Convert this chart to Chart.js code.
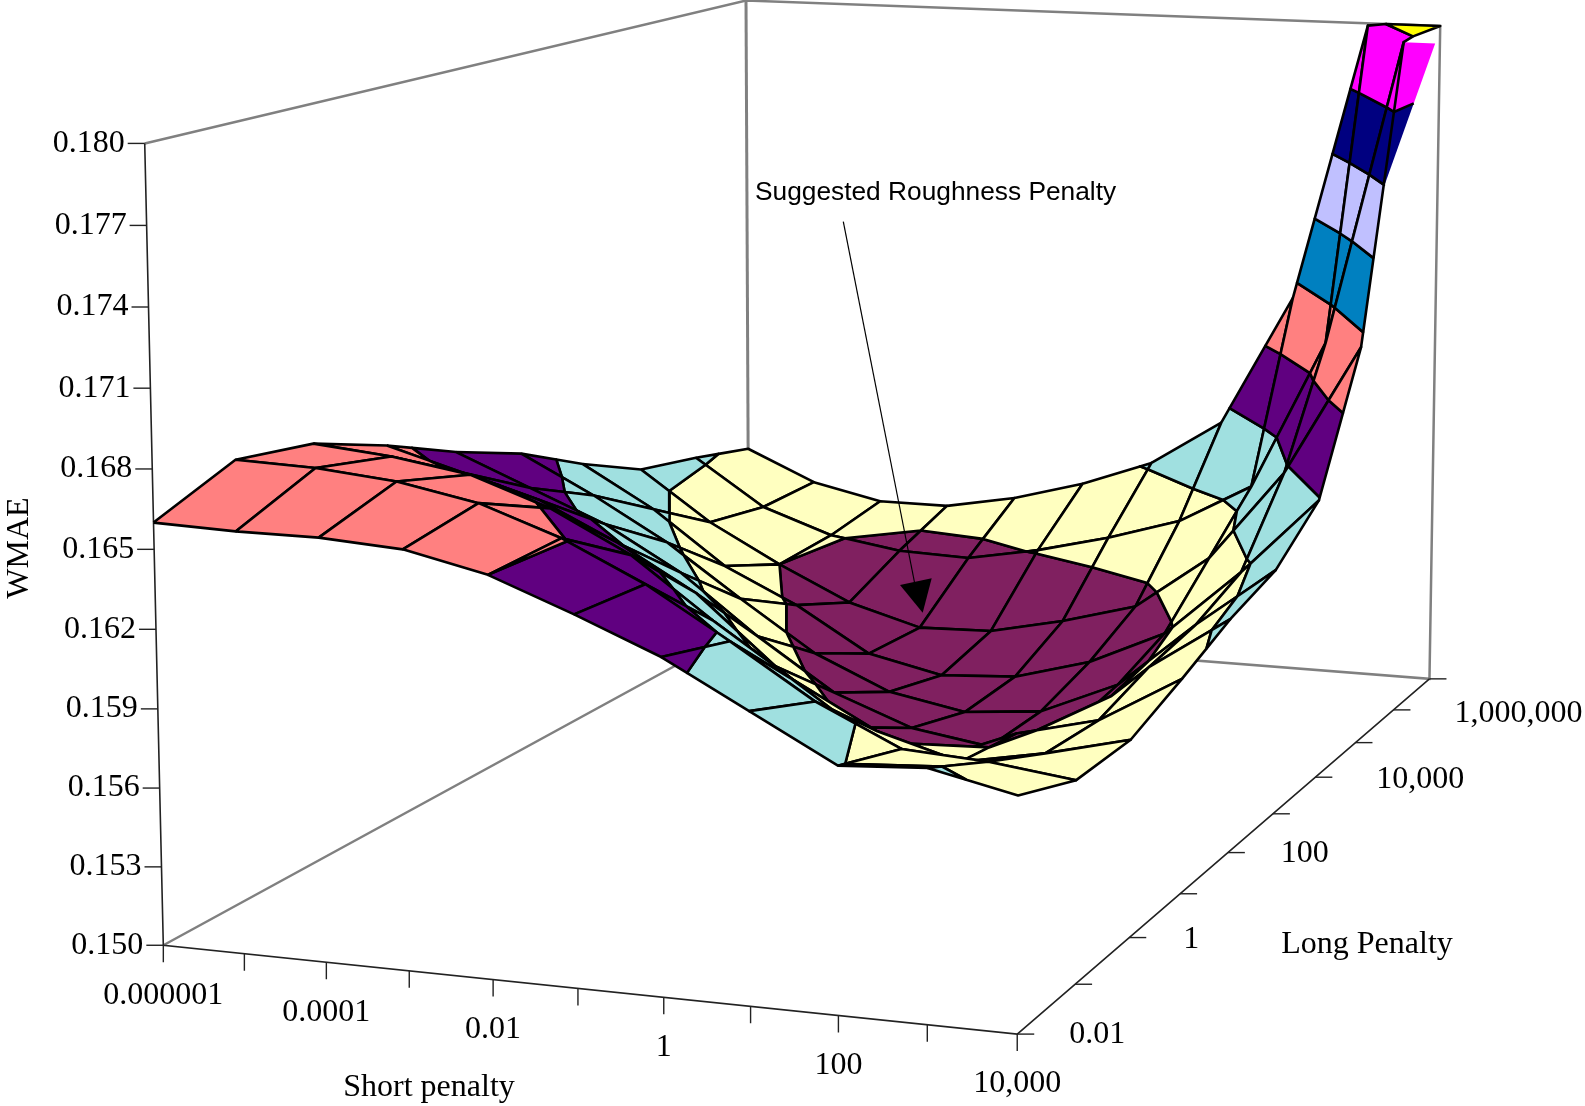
<!DOCTYPE html>
<html><head><meta charset="utf-8"><style>html,body{margin:0;padding:0;background:#fff}canvas{display:block}</style></head>
<body><canvas id="c" width="1585" height="1106"></canvas>
<script src="https://cdn.jsdelivr.net/npm/chart.js@4"></script>
<script>
// ---------- data ----------
const shortPenalty=['0.000001','0.00001','0.0001','0.001','0.01','0.1','1','10','100','1,000','10,000'];
const longPenalty=['0.01','0.1','1','10','100','1,000','10,000','100,000','1,000,000','10,000,000'];
const wmaeTicks=['0.150','0.153','0.156','0.159','0.162','0.165','0.168','0.171','0.174','0.177','0.180'];
const shortTickLabels=['0.000001','','0.0001','','0.01','','1','','100','','10,000'];
const longTickLabels=['0.01','','1','','100','','10,000','','1,000,000',''];
// WMAE for each short penalty, one value per long penalty
const wmaeS0=[.1660,.1672,.1667,.1655,.1641,.1629,.1613,.1599,.1593,.1586];
const wmaeS1=[.1659,.1671,.1664,.1646,.1628,.1613,.1595,.1577,.1572,.1572];
const wmaeS2=[.1659,.1668,.1659,.1637,.1615,.1595,.1572,.1560,.1561,.1565];
const wmaeS3=[.1657,.1662,.1648,.1622,.1597,.1573,.1557,.1545,.1556,.1565];
const wmaeS4=[.1650,.1651,.1632,.1604,.1573,.1552,.1538,.1536,.1555,.1571];
const wmaeS5=[.1638,.1636,.1609,.1577,.1552,.1538,.1531,.1537,.1561,.1580];
const wmaeS6=[.1625,.1617,.1588,.1555,.1540,.1532,.1533,.1544,.1569,.1592];
const wmaeS7=[.1608,.1597,.1571,.1545,.1535,.1535,.1542,.1553,.1579,.1613];
const wmaeS8=[.1591,.1582,.1562,.1558,.1545,.1549,.1557,.1577,.1597,.1673];
const wmaeS9=[.1593,.1580,.1568,.1566,.1573,.1577,.1586,.1617,.1664,.1799];
const wmaeS10=[.1586,.1576,.1576,.1585,.1595,.1602,.1619,.1674,.1799,.1803];
// sliver of the rising sheet that shows past the last grid line (long position 0-1, WMAE)
const sliverLong=[.889,.985,.834];
const sliverWmae=[.1799,.1793,.1738];
const bandLimits=[.150,.156,.159,.162,.165,.168,.171,.174,.177,.180,.200];
const bandColors=['#802060','#FFFFC0','#A0E0E0','#600080','#FF8080','#0080C0','#C0C0FF','#000080','#FF00FF','#FFFF00'];
// ---------- projection of the 3D box ----------
const wmaeGrid=[wmaeS0,wmaeS1,wmaeS2,wmaeS3,wmaeS4,wmaeS5,wmaeS6,wmaeS7,wmaeS8,wmaeS9,wmaeS10];
const boxCorners=[[0,0,0,164.8,951],[1,0,0,1015.9,1030],[1,1,0,1430.3,683],[0,1,0,748,620],[0,0,1,144.5,141.5],[0,1,1,746,3],[1,1,1,1440.4,25]];
function fit(pts){const A=[],B=[];for(const [u,v,w,X,Y] of pts){A.push([u,v,w,1,0,0,0,0,-X*u,-X*v,-X*w]);B.push(X);A.push([0,0,0,0,u,v,w,1,-Y*u,-Y*v,-Y*w]);B.push(Y);}
 const n=11,M=[];for(let r=0;r<n;r++){M.push([]);for(let c=0;c<n;c++){let s=0;for(let k=0;k<A.length;k++)s+=A[k][r]*A[k][c];M[r].push(s);}let s=0;for(let k=0;k<A.length;k++)s+=A[k][r]*B[k];M[r].push(s);}
 for(let c=0;c<n;c++){let p=c;for(let r=c+1;r<n;r++)if(Math.abs(M[r][c])>Math.abs(M[p][c]))p=r;[M[c],M[p]]=[M[p],M[c]];for(let r=0;r<n;r++)if(r!=c){const f=M[r][c]/M[c][c];for(let k=c;k<=n;k++)M[r][k]-=f*M[c][k];}}
 return M.map((r,i)=>r[n]/r[i]);}
const P=fit(boxCorners);
function proj(u,v,z){const w=(Math.min(z,.18)-.15)/.03;const d=P[8]*u+P[9]*v+P[10]*w+1;return {x:(P[0]*u+P[1]*v+P[2]*w+P[3])/d,y:(P[4]*u+P[5]*v+P[6]*w+P[7])/d};}
function clip(poly,lim,keepAbove){const out=[];for(let k=0;k<poly.length;k++){const a=poly[k],b=poly[(k+1)%poly.length];const ia=keepAbove?a.z>=lim:a.z<=lim,ib=keepAbove?b.z>=lim:b.z<=lim;if(ia)out.push(a);if(ia!==ib){const t=(lim-a.z)/(b.z-a.z);out.push({u:a.u+t*(b.u-a.u),v:a.v+t*(b.v-a.v),z:lim});}}return out;}
const grey='#808080',thin='#222222';
const ds=[];
const seg=(pts,color,width)=>ds.push({data:pts,borderColor:color,borderWidth:width,pointRadius:0,fill:false,tension:0,borderCapStyle:'butt'});
// walls
const C=(u,v,z)=>proj(u,v,z);
seg([C(0,0,.18),C(0,1,.18),C(1,1,.18),C(1,1,.15),C(0,1,.15),C(0,0,.15)],grey,2.5);
seg([C(0,1,.18),C(0,1,.15)],grey,3);
// axes
seg([C(0,0,.18),C(0,0,.15),C(1,0,.15),C(1,1,.15)],thin,1.6);
wmaeTicks.forEach((t,k)=>{const p=C(0,0,+t);seg([p,{x:p.x-17,y:p.y}],thin,1.4);});
shortPenalty.forEach((t,i)=>{const p=C(i/10,0,.15);seg([p,{x:p.x,y:p.y+17}],thin,1.4);});
longPenalty.forEach((t,j)=>{const p=C(1,j/9,.15);seg([p,{x:p.x+17,y:p.y}],thin,1.4);});
// sliver: filled bands with only their contour lines
const sliver=sliverLong.map((v,k)=>({u:1,v:v,z:sliverWmae[k]}));
bandColors.forEach((col,b)=>{
 let poly=clip(sliver,bandLimits[b],true);
 if(poly.length)poly=clip(poly,bandLimits[b+1],false);
 if(poly.length<3)return;
 const pts=poly.map(p=>proj(p.u,p.v,p.z));pts.push(pts[0]);
 ds.push({data:pts,borderWidth:0,borderColor:col,backgroundColor:col,fill:'shape',pointRadius:0,tension:0});
 const low=poly.filter(p=>Math.abs(p.z-bandLimits[b])<1e-9);
 if(low.length===2)seg(low.map(p=>proj(p.u,p.v,p.z)),'#000',2.6);
});
// surface, far cells first
for(let i=0;i<10;i++)for(let j=8;j>=0;j--){
 const q=[[i,j],[i+1,j],[i+1,j+1],[i,j+1]].map(([a,b])=>({u:a/10,v:b/9,z:wmaeGrid[a][b]}));
 bandColors.forEach((col,b)=>{
  let poly=clip(q,bandLimits[b],true);
  if(poly.length)poly=clip(poly,bandLimits[b+1],false);
  if(poly.length<3)return;
  const pts=poly.map(p=>proj(p.u,p.v,p.z));pts.push(pts[0]);
  ds.push({data:pts,borderColor:'#000',borderWidth:2.6,backgroundColor:col,fill:'shape',pointRadius:0,tension:0,borderJoinStyle:'round'});
 });
}
// annotation pointer
seg([{x:843.3,y:221.7},{x:918,y:600}],'#000',1.2);
ds.push({data:[{x:900,y:585},{x:931.7,y:578.3},{x:922.7,y:612.7},{x:900,y:585}],borderColor:'#000',borderWidth:0,backgroundColor:'#000',fill:'shape',pointRadius:0,tension:0});
const n=ds.length;ds.forEach((d,k)=>{d.order=n-k;});
const serif='"Liberation Serif"';
const labels={id:'labels',afterDraw(chart){const c=chart.ctx,sx=chart.scales.x,sy=chart.scales.y;
 const text=(s,x,y,al,font)=>{c.font=font;c.textAlign=al;c.textBaseline='middle';c.fillStyle='#000';c.fillText(s,sx.getPixelForValue(x),sy.getPixelForValue(y));};
 const f=`32px ${serif}`;
 wmaeTicks.forEach(t=>{const p=C(0,0,+t);text(t,p.x-20,p.y,'right',f);});
 shortTickLabels.forEach((t,i)=>{if(!t)return;const p=C(i/10,0,.15);text(t,p.x,p.y+50,'center',f);});
 const dx=[52,0,54,0,53,0,61,0,61,0],dy=[1,0,2,0,1,0,2,0,4,0];
 longTickLabels.forEach((t,j)=>{if(!t)return;const p=C(1,j/9,.15);text(t,p.x+dx[j],p.y+dy[j],'left',f);});
 text('Short penalty',429,1088,'center',f);
 text('Long Penalty',1367,945,'center',f);
 c.save();c.translate(sx.getPixelForValue(20),sy.getPixelForValue(548));c.rotate(-Math.PI/2);c.font=f;c.textAlign='center';c.textBaseline='middle';c.fillStyle='#000';c.fillText('WMAE',0,0);c.restore();
 text('Suggested Roughness Penalty',755,193,'left','26.3px "Liberation Sans"');
}};
new Chart(document.getElementById('c'),{type:'line',data:{datasets:ds},plugins:[labels],options:{responsive:false,animation:false,events:[],
 layout:{padding:0},
 plugins:{legend:{display:false},tooltip:{enabled:false},title:{display:false}},
 scales:{x:{type:'linear',min:0,max:1585,display:false},y:{type:'linear',min:0,max:1106,reverse:true,display:false}}}});
</script></body></html>
